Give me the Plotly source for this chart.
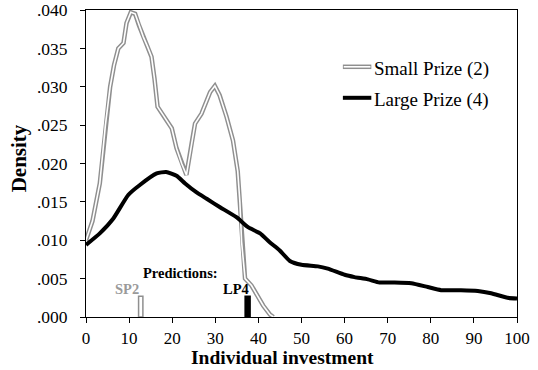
import plotly.graph_objects as go

# Kernel density of individual investment, small prize treatment
small_x = [0, 1.5, 3.2, 4.5, 5.6, 6.5, 7.5, 8.7, 9.4, 10.4, 11.4, 12.3, 13.3, 14.3,
           15.2, 15.9, 16.6, 17.9, 19.1, 19.9, 21.0, 22.2, 23.3, 24.5, 25.3, 26.8,
           28.8, 29.9, 31.0, 32.6, 34.1, 35.2, 35.7, 36.1, 36.9, 38.4, 39.8, 41.1,
           42.7, 43.5]
small_y = [0.0100, 0.0125, 0.0174, 0.0250, 0.0300, 0.0328, 0.0350, 0.0357, 0.0383,
           0.0397, 0.0395, 0.0380, 0.0365, 0.0352, 0.0339, 0.0310, 0.0274, 0.0263,
           0.0252, 0.0246, 0.0220, 0.0200, 0.0185, 0.0226, 0.0252, 0.0265, 0.0293,
           0.0301, 0.0289, 0.0261, 0.0230, 0.0190, 0.0150, 0.0098, 0.0050, 0.0041,
           0.0028, 0.0015, 0.0003, 0.0000]

# Kernel density of individual investment, large prize treatment
large_x = [0, 3.2, 6.3, 9.8, 12.5, 16.4, 18.6, 21.0, 23.0, 25.5, 28.0, 31.1, 34.9,
           37.6, 40.4, 42.5, 44.9, 47.3, 50.0, 53.8, 56.1, 60.0, 62.3, 65.4, 68.1,
           71.6, 75.5, 79.3, 82.4, 87.0, 90.9, 94.0, 97.8, 100]
large_y = [0.0094, 0.0109, 0.0128, 0.0159, 0.0172, 0.0187, 0.0189, 0.0184, 0.0174,
           0.0163, 0.0154, 0.0143, 0.0130, 0.0117, 0.0109, 0.0098, 0.0087, 0.0073,
           0.0068, 0.0066, 0.0063, 0.0055, 0.0052, 0.0049, 0.0045, 0.0045, 0.0044,
           0.0039, 0.0035, 0.0035, 0.0034, 0.0031, 0.0025, 0.0024]

# Theoretical predictions (equilibrium investment)
pred_labels = ["SP2", "LP4"]
pred_x = [12.7, 37.5]
pred_h = [0.0027, 0.0028]

y_ticks = [0.000, 0.005, 0.010, 0.015, 0.020, 0.025, 0.030, 0.035, 0.040]
y_ticktext = [".000", ".005", ".010", ".015", ".020", ".025", ".030", ".035", ".040"]
x_ticks = [0, 10, 20, 30, 40, 50, 60, 70, 80, 90, 100]

GRAY = "#8f8f8f"
LABEL_GRAY = "#9a9a9a"
FONT = "Liberation Serif"

fig = go.Figure()

# prediction markers
fig.add_trace(go.Bar(x=[pred_x[0]], y=[pred_h[0]], width=1.0,
                     marker=dict(color="white", line=dict(color=GRAY, width=1.5)),
                     showlegend=False, hoverinfo="skip"))
fig.add_trace(go.Bar(x=[pred_x[1]], y=[pred_h[1]], width=1.5,
                     marker=dict(color="black", line=dict(color="black", width=0)),
                     showlegend=False, hoverinfo="skip"))

# small prize: double (outlined) line
fig.add_trace(go.Scatter(x=small_x, y=small_y, mode="lines",
                         line=dict(color=GRAY, width=4.5),
                         showlegend=False, hoverinfo="skip"))
fig.add_trace(go.Scatter(x=small_x, y=small_y, mode="lines",
                         line=dict(color="white", width=1.6),
                         name="Small Prize (2)", showlegend=False))

# large prize: thick black line
fig.add_trace(go.Scatter(x=large_x, y=large_y, mode="lines",
                         line=dict(color="black", width=4, shape="spline", smoothing=0.5),
                         name="Large Prize (4)", showlegend=False))

LEG_X0, LEG_X1 = 0.596, 0.662
LEG_Y = [0.815, 0.714]

annotations = [
    dict(x=21.9, y=0.0057, xref="x", yref="y", text="<b>Predictions:</b>",
         showarrow=False, font=dict(family=FONT, size=14.5, color="black")),
    dict(x=9.6, y=0.0036, xref="x", yref="y", text="<b>%s</b>" % pred_labels[0],
         showarrow=False, font=dict(family=FONT, size=14.5, color=LABEL_GRAY)),
    dict(x=34.9, y=0.0036, xref="x", yref="y", text="<b>%s</b>" % pred_labels[1],
         showarrow=False, font=dict(family=FONT, size=14.5, color="black")),
    # legend text
    dict(x=LEG_X1 + 0.002, y=LEG_Y[0] - 0.006, xref="paper", yref="paper",
         xanchor="left", yanchor="middle", text="Small Prize (2)", showarrow=False,
         font=dict(family=FONT, size=19, color="black")),
    dict(x=LEG_X1 + 0.002, y=LEG_Y[1] - 0.006, xref="paper", yref="paper",
         xanchor="left", yanchor="middle", text="Large Prize (4)", showarrow=False,
         font=dict(family=FONT, size=19, color="black")),
    # axis titles
    dict(x=0.457, y=-0.1735, xref="paper", yref="paper", xanchor="center",
         yanchor="bottom", text="<b>Individual investment</b>", showarrow=False,
         font=dict(family=FONT, size=19.5, color="black")),
    dict(x=-0.156, y=0.516, xref="paper", yref="paper", xanchor="center",
         yanchor="middle", text="<b>Density</b>", showarrow=False, textangle=-90,
         font=dict(family=FONT, size=21, color="black")),
]

shapes = [
    dict(type="line", xref="paper", yref="paper", x0=LEG_X0, x1=LEG_X1,
         y0=LEG_Y[0], y1=LEG_Y[0], line=dict(color=GRAY, width=4.5)),
    dict(type="line", xref="paper", yref="paper", x0=LEG_X0 + 0.002, x1=LEG_X1 - 0.002,
         y0=LEG_Y[0], y1=LEG_Y[0], line=dict(color="white", width=1.6)),
    dict(type="line", xref="paper", yref="paper", x0=LEG_X0, x1=LEG_X1,
         y0=LEG_Y[1], y1=LEG_Y[1], line=dict(color="black", width=4)),
]

fig.update_layout(
    width=538, height=370,
    margin=dict(l=86, r=21, t=10, b=53),
    paper_bgcolor="white", plot_bgcolor="white",
    font=dict(family=FONT, size=16, color="black"),
    barmode="overlay",
    annotations=annotations,
    shapes=shapes,
    xaxis=dict(range=[0, 100], tickvals=x_ticks, showgrid=False, zeroline=False,
               showline=True, linecolor="black", linewidth=1, mirror=True,
               ticks="outside", ticklen=5, tickcolor="black", automargin=False,
               ticklabelstandoff=1,
               tickfont=dict(family=FONT, size=17)),
    yaxis=dict(range=[0, 0.040], tickvals=y_ticks, ticktext=y_ticktext,
               showgrid=False, zeroline=False,
               showline=True, linecolor="black", linewidth=1, mirror=True,
               ticks="outside", ticklen=5, tickcolor="black", automargin=False,
               ticklabelstandoff=9,
               tickfont=dict(family=FONT, size=17.5)),
)

fig.write_html("out.html")
